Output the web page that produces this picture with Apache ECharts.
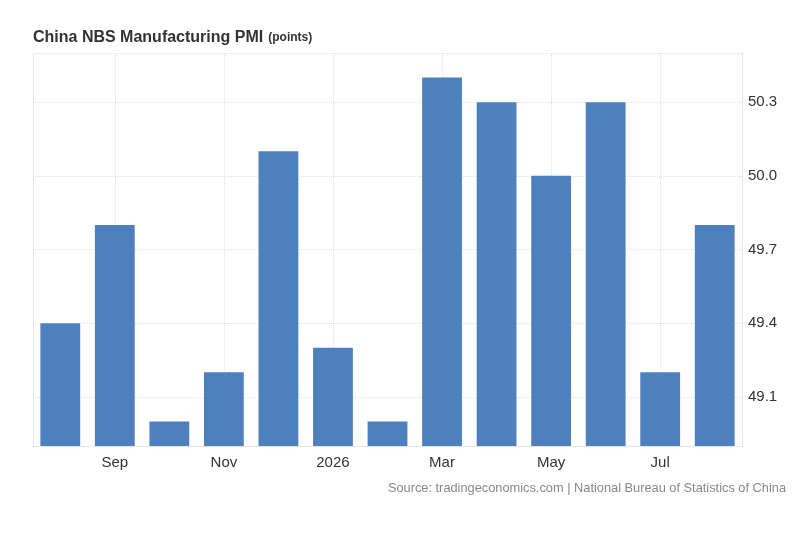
<!DOCTYPE html>
<html>
<head>
<meta charset="utf-8">
<script src="https://cdn.jsdelivr.net/npm/echarts@6/dist/echarts.min.js"></script>
<style>
  html, body { margin: 0; padding: 0; background: #fff; }
  #chart { width: 800px; height: 546px; }
</style>
</head>
<body>
<div id="chart"></div>
<script>
// Data
const months = ['Aug', 'Sep', 'Oct', 'Nov', 'Dec', '2026', 'Feb', 'Mar', 'Apr', 'May', 'Jun', 'Jul', 'Aug'];
const pmi = [49.4, 49.8, 49.0, 49.2, 50.1, 49.3, 49.0, 50.4, 50.3, 50.0, 50.3, 49.2, 49.8];
const yTicks = [49.1, 49.4, 49.7, 50.0, 50.3];

const chart = echarts.init(document.getElementById('chart'));
const font = '"Liberation Sans", Arial, sans-serif';
const everyOther = (i) => i % 2 === 1;

const option = {
    animation: false,
    textStyle: { fontFamily: font },
    title: {
        left: 28,
        top: 24,
        text: '{main|China NBS Manufacturing PMI} {unit|(points)}',
        textStyle: {
            rich: {
                main: { fontFamily: font, fontSize: 16, fontWeight: 'bold', color: '#333' },
                unit: { fontFamily: font, fontSize: 12, fontWeight: 'bold', color: '#333' }
            }
        }
    },
    grid: { left: 33, right: 58, top: 53, bottom: 100 },
    xAxis: {
        type: 'category',
        data: months,
        axisLine: { lineStyle: { color: '#e6e6e6' } },
        axisTick: { show: false },
        axisLabel: {
            interval: everyOther,
            color: '#333',
            fontSize: 15,
            margin: 9
        },
        splitLine: {
            show: true,
            interval: everyOther,
            alignWithLabel: true,
            lineStyle: { color: '#e0e0e0', type: 'dotted' }
        }
    },
    yAxis: [{
        type: 'value',
        position: 'right',
        min: 48.9,
        max: 50.5,
        axisLine: { show: true, lineStyle: { color: '#e6e6e6' } },
        axisTick: { show: false, customValues: yTicks.concat([50.5]) },
        axisLabel: {
            customValues: yTicks,
            color: '#333',
            fontSize: 15,
            margin: 6,
            formatter: (v) => v.toFixed(1)
        },
        splitLine: { lineStyle: { color: '#e0e0e0', type: 'dotted' } }
    }, {
        type: 'value',
        position: 'left',
        axisLine: { show: true, lineStyle: { color: '#e6e6e6' } },
        axisTick: { show: false },
        axisLabel: { show: false },
        splitLine: { show: false }
    }],
    graphic: [{
        type: 'text',
        right: 14,
        top: 482,
        style: {
            text: 'Source: tradingeconomics.com | National Bureau of Statistics of China',
            fill: '#888',
            font: '12.8px ' + font
        }
    }],
    series: [{
        name: 'PMI',
        type: 'bar',
        data: pmi,
        barCategoryGap: '27%',
        itemStyle: { color: '#4e80bd' }
    }]
};

chart.setOption(option);
</script>
</body>
</html>
